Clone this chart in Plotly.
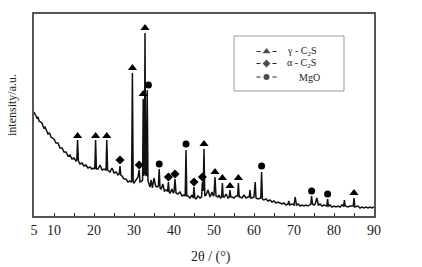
import plotly.graph_objects as go

# ---------------- data ----------------
two_theta = [
    5.0, 5.25, 5.5, 5.75, 6.0, 6.25, 6.5, 6.75, 7.0, 7.25, 7.5, 7.75, 8.0, 8.25, 8.5, 8.75,
    9.0, 9.25, 9.5, 9.75, 10.0, 10.5, 11.0, 11.5, 12.0, 12.5, 13.0, 13.5, 14.0, 14.5, 15.0,
    15.5, 15.7, 15.9, 16.1, 16.5, 17.0, 17.5, 18.0, 18.5, 19.0, 19.5, 20.0, 20.2, 20.4, 20.6,
    21.0, 21.5, 22.0, 22.5, 23.0, 23.2, 23.4, 24.0, 24.5, 25.0, 25.5, 26.0, 26.3, 26.5, 26.7,
    27.0, 27.5, 28.0, 28.5, 29.0, 29.4, 29.6, 29.8, 30.0, 30.5, 31.0, 31.3, 31.5, 32.0, 32.15,
    32.3, 32.45, 32.6, 32.75, 32.9, 33.1, 33.3, 33.5, 33.7, 34.0, 34.3, 34.6, 35.0, 35.4, 35.8,
    36.1, 36.3, 36.5, 36.8, 37.2, 37.6, 38.0, 38.4, 38.6, 38.8, 39.0, 39.5, 39.8, 40.0, 40.25,
    40.5, 41.0, 41.5, 42.0, 42.5, 42.8, 43.0, 43.2, 43.5, 44.0, 44.5, 44.8, 45.0, 45.2, 45.5,
    46.0, 46.5, 46.9, 47.1, 47.3, 47.5, 47.7, 48.0, 48.5, 49.0, 49.5, 49.8, 50.0, 50.25, 50.5,
    51.0, 51.3, 51.6, 51.9, 52.1, 52.3, 52.6, 53.0, 53.5, 53.8, 54.0, 54.2, 54.5, 55.0, 55.5,
    55.9, 56.1, 56.3, 56.6, 57.0, 57.5, 58.0, 58.5, 58.8, 59.0, 59.2, 59.5, 60.0, 60.3, 60.5,
    61.0, 61.5, 61.7, 61.9, 62.1, 62.4, 63.0, 63.5, 64.0, 64.5, 65.0, 65.5, 66.0, 66.5, 67.0,
    67.5, 68.0, 68.5, 68.7, 68.9, 69.5, 70.0, 70.3, 70.6, 71.0, 71.5, 72.0, 72.5, 73.0, 73.5,
    74.0, 74.2, 74.4, 74.6, 75.0, 75.3, 75.7, 76.1, 76.5, 77.0, 77.5, 78.0, 78.2, 78.4, 78.6,
    79.0, 79.5, 80.0, 80.5, 81.0, 81.5, 82.0, 82.4, 82.6, 82.8, 83.5, 84.0, 84.5, 84.8, 85.0,
    85.2, 86.0, 86.5, 87.0, 87.5, 88.0, 88.5, 89.0, 89.5, 90.0,
]
intensity = [
    104, 101, 100, 98, 99, 95, 94, 93, 93, 90, 88, 89, 87, 84, 82, 83,
    82, 79, 78, 78, 77, 73, 73, 68, 68, 64, 64, 60, 61, 57, 58,
    55, 56, 76, 55, 52, 53, 50, 51, 48, 49, 47, 48, 47, 76, 47,
    47, 51, 46, 47, 46, 76, 46, 44, 48, 43, 44, 41, 42, 50, 41,
    40, 37, 37, 34, 35, 34, 143, 34, 33, 36, 39, 46, 34, 35, 36,
    117, 40, 45, 183, 42, 40, 126, 35, 33, 29, 36, 28, 38, 30, 29,
    30, 47, 28, 27, 32, 25, 26, 25, 34, 24, 23, 27, 23, 24, 37,
    23, 22, 24, 20, 21, 20, 66, 20, 20, 18, 21, 18, 29, 18, 17,
    20, 18, 19, 34, 25, 67, 20, 21, 26, 19, 24, 20, 21, 39, 20,
    19, 21, 18, 19, 33, 19, 19, 22, 18, 19, 26, 19, 19, 18, 20,
    20, 33, 19, 19, 18, 21, 18, 19, 19, 26, 18, 18, 19, 34, 18,
    17, 18, 18, 44, 17, 16, 17, 15, 16, 14, 15, 13, 14, 13, 12,
    13, 11, 12, 15, 11, 12, 11, 19, 11, 12, 10, 11, 10, 11, 10,
    12, 12, 20, 12, 11, 12, 18, 11, 12, 10, 11, 10, 10, 17, 10,
    11, 9, 10, 9, 10, 9, 11, 10, 16, 10, 9, 10, 10, 10, 18,
    9, 10, 8, 9, 8, 9, 8, 9, 8, 9,
]

# phase markers above the peaks
gamma_x = [15.9, 20.4, 23.2, 29.6, 32.3, 32.75, 47.5, 50.25, 52.1, 54.0, 56.1, 85.0]
gamma_y = [80, 80, 80, 148, 122, 188, 72, 44, 38, 30, 38, 23]
alpha_x = [26.5, 31.3, 38.6, 40.25, 45.0, 47.1]
alpha_y = [56, 51, 39, 42, 34, 39]
mgo_x = [33.6, 36.3, 43.0, 61.9, 74.4, 78.4]
mgo_y = [131, 52, 72, 50, 25, 22]

tick_vals = [5, 10, 20, 30, 40, 50, 60, 70, 80, 90]
tick_text = ["5", "10", "20", "30", "40", "50", "60", "70", "80", "90"]
minor_tick_vals = [15, 25, 35, 45, 55, 65, 75, 85]

legend_labels = ["γ - C<sub>2</sub>S", "α - C<sub>2</sub>S", "MgO"]
legend_symbols = ["triangle-up", "diamond", "circle"]

x_title = "2θ / (°)"
y_title = "intensity/a.u."

# ---------------- layout constants (pixels) ----------------
W, H = 422, 267
L, R, T, B = 34, 374, 14, 216
SERIF = "Liberation Serif, Times New Roman, serif"

fig = go.Figure()
fig.add_trace(go.Scatter(x=two_theta, y=intensity, mode="lines",
                         line=dict(color="#111", width=1.5), showlegend=False))
for xs, ys, sym, sz in [(gamma_x, gamma_y, "triangle-up", 8), (alpha_x, alpha_y, "diamond", 7),
                        (mgo_x, mgo_y, "circle", 7)]:
    fig.add_trace(go.Scatter(x=xs, y=ys, mode="markers", showlegend=False,
                             marker=dict(symbol=sym, size=sz, color="black",
                                         line=dict(width=0))))

# legend drawn in pixel coordinates on an overlay axis
leg_rows_y = [51.5, 63.5, 77]
leg_sym_x = 266.5
leg_text_x = [285, 285, 297]
fig.add_trace(go.Scatter(x=[leg_sym_x] * 3, y=leg_rows_y, mode="markers",
                         xaxis="x2", yaxis="y2", showlegend=False,
                         marker=dict(symbol=legend_symbols, size=[7, 6, 6], color="black",
                                     line=dict(width=0))))
shapes = [dict(type="rect", xref="x2", yref="y2", x0=234, x1=344, y0=36, y1=91,
               line=dict(color="#999", width=1))]
for yy in leg_rows_y:
    for x0 in (leg_sym_x - 10, leg_sym_x + 6):
        shapes.append(dict(type="line", xref="x2", yref="y2", x0=x0, x1=x0 + 4,
                           y0=yy, y1=yy, line=dict(color="#222", width=1)))
annotations = []
for lbl, yy, tx in zip(legend_labels, leg_rows_y, leg_text_x):
    annotations.append(dict(text=lbl, xref="x2", yref="y2", x=tx, y=yy,
                            xanchor="left", yanchor="middle", showarrow=False,
                            font=dict(family=SERIF, size=10, color="#222")))
annotations.append(dict(text=x_title, xref="paper", yref="paper",
                        x=(211 - L) / (R - L), y=(B - 257) / (B - T),
                        xanchor="center", yanchor="middle", showarrow=False,
                        font=dict(family=SERIF, size=14, color="#222")))
annotations.append(dict(text=y_title, xref="paper", yref="paper", textangle=-90,
                        x=(12 - L) / (R - L), y=(B - 105) / (B - T),
                        xanchor="center", yanchor="middle", showarrow=False,
                        font=dict(family=SERIF, size=12, color="#222")))

fig.update_layout(
    width=W, height=H, margin=dict(l=L, r=W - R, t=T, b=H - B, pad=0),
    paper_bgcolor="white", plot_bgcolor="white", showlegend=False,
    xaxis=dict(range=[5, 90], tickmode="array", tickvals=tick_vals, ticktext=tick_text,
               ticks="inside", ticklen=3, tickwidth=1, tickcolor="#333",
               minor=dict(tickmode="array", tickvals=minor_tick_vals, ticks="inside",
                          ticklen=3, tickwidth=1, tickcolor="#333", showgrid=False),
               showline=True, linecolor="#555", linewidth=1.5, mirror=True,
               showgrid=False, zeroline=False,
               tickfont=dict(family=SERIF, size=14, color="#222")),
    yaxis=dict(range=[0, 202], showticklabels=False, ticks="", showline=True,
               linecolor="#555", linewidth=1.5, mirror=True, showgrid=False,
               zeroline=False),
    xaxis2=dict(overlaying="x", range=[L, R], visible=False),
    yaxis2=dict(overlaying="y", range=[B, T], visible=False),
    shapes=shapes, annotations=annotations,
)
fig.write_html("out.html")
